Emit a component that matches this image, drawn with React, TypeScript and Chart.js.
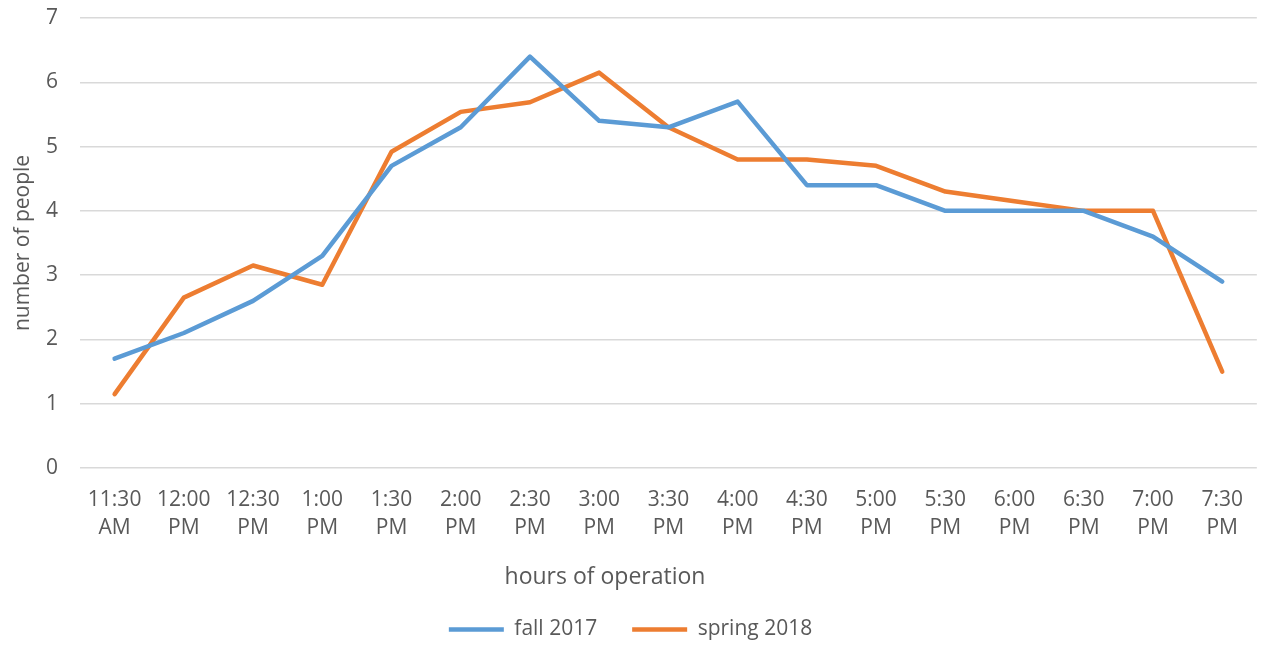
import React, { useEffect, useRef } from "react";
import { Chart, registerables } from "chart.js";

Chart.register(...registerables);

const categories: string[][] = [
  ["11:30", "AM"], ["12:00", "PM"], ["12:30", "PM"], ["1:00", "PM"], ["1:30", "PM"],
  ["2:00", "PM"], ["2:30", "PM"], ["3:00", "PM"], ["3:30", "PM"], ["4:00", "PM"],
  ["4:30", "PM"], ["5:00", "PM"], ["5:30", "PM"], ["6:00", "PM"], ["6:30", "PM"],
  ["7:00", "PM"], ["7:30", "PM"],
];
const fall2017 = [1.7, 2.1, 2.6, 3.3, 4.7, 5.3, 6.4, 5.4, 5.3, 5.7, 4.4, 4.4, 4.0, 4.0, 4.0, 3.6, 2.9];
const spring2018 = [1.15, 2.65, 3.15, 2.85, 4.92, 5.54, 5.69, 6.15, 5.3, 4.8, 4.8, 4.7, 4.3, 4.15, 4.0, 4.0, 1.5];
const seriesNames = ["fall 2017", "spring 2018"];
const yMin = 0;
const yMax = 7;
const yStep = 1;
const xTitle = "hours of operation";
const yTitle = "number of people";

const FONT = "'Open Sans', sans-serif";
const TEXT = "#595959";
const FS = 21;

const xTitlePlugin = {
  id: "xTitlePlugin",
  afterDraw(chart: any) {
    const ctx = chart.ctx;
    ctx.save();
    ctx.font = `23px ${FONT}`;
    ctx.fillStyle = TEXT;
    ctx.textAlign = "center";
    ctx.textBaseline = "middle";
    ctx.fillText(xTitle, 605, 577);
    ctx.restore();
  },
};

export default function App() {
  const ref = useRef<HTMLCanvasElement>(null);
  useEffect(() => {
    document.body.style.margin = "0";
    if (!ref.current) return;
    const chart = new Chart(ref.current, {
      type: "line",
      data: {
        labels: categories,
        datasets: [
          {
            label: seriesNames[0],
            data: fall2017,
            borderColor: "#5B9BD5",
            backgroundColor: "#5B9BD5",
            borderWidth: 4.5,
            pointRadius: 0,
            tension: 0,
            borderJoinStyle: "round",
            borderCapStyle: "round",
          },
          {
            label: seriesNames[1],
            data: spring2018,
            borderColor: "#ED7D31",
            backgroundColor: "#ED7D31",
            borderWidth: 4.5,
            pointRadius: 0,
            tension: 0,
            borderJoinStyle: "round",
            borderCapStyle: "round",
          },
        ],
      },
      options: {
        animation: false,
        responsive: false,
        font: { family: FONT },
        layout: { padding: { top: 18, right: 0, left: 0, bottom: -4 } },
        plugins: {
          tooltip: { enabled: false },
          legend: {
            position: "bottom",
            labels: {
              usePointStyle: true,
              pointStyle: "line",
              pointStyleWidth: 55,
              color: TEXT,
              padding: 35,
              font: { family: FONT, size: FS },
            },
          },
        },
        scales: {
          x: {
            offset: true,
            grid: { display: false, drawTicks: false },
            border: { display: false },
            ticks: {
              color: TEXT,
              padding: 18,
              maxRotation: 0,
              autoSkip: false,
              font: { family: FONT, size: FS, lineHeight: 28 / FS },
            },
            afterFit: (s: any) => { s.height = 116; },
          },
          y: {
            min: yMin,
            max: yMax,
            grid: {
              color: "#d9d9d9",
              lineWidth: 1.5,
              drawTicks: true,
              tickLength: 22,
              tickColor: "rgba(0,0,0,0)",
            },
            border: { display: false },
            ticks: {
              stepSize: yStep,
              color: TEXT,
              padding: 0,
              font: { family: FONT, size: FS },
            },
            title: {
              display: true,
              text: yTitle,
              color: TEXT,
              padding: 10,
              font: { family: FONT, size: FS },
            },
            afterFit: (s: any) => { s.width = 80; },
          },
        },
      },
      plugins: [xTitlePlugin],
    } as any);
    return () => chart.destroy();
  }, []);
  return (
    <div style={{ width: 1261, height: 646 }}>
      <canvas ref={ref} width={1261} height={646} />
    </div>
  );
}
